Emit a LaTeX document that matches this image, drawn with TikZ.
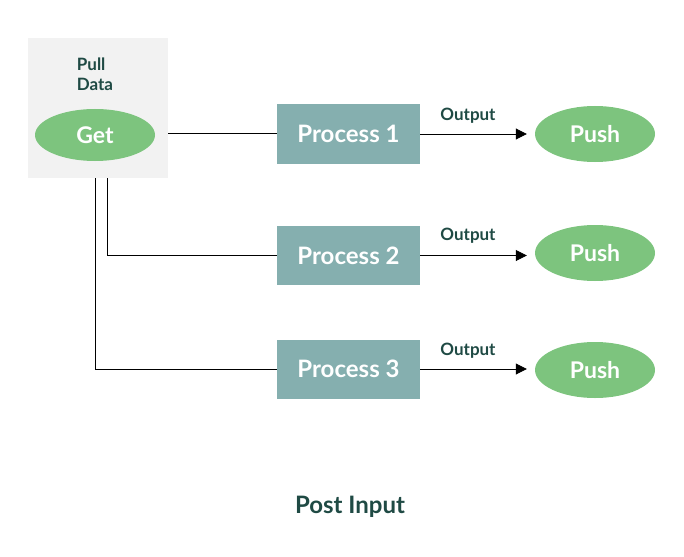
\documentclass[tikz,border=0pt]{standalone}
\usepackage{fontspec}
\setmainfont{Lato}
\usetikzlibrary{shapes.geometric,arrows.meta}
\definecolor{dg}{HTML}{1F4A44}
\definecolor{gr}{HTML}{7DC47E}
\definecolor{tl}{HTML}{85AFAF}
\definecolor{bx}{HTML}{F2F2F2}
\begin{document}
\begin{tikzpicture}[x=1pt,y=-1pt,
  proc/.style={rectangle,fill=tl,text=white,minimum width=143pt,minimum height=59pt,font=\fontsize{24}{28}\selectfont\bfseries},
  push/.style={ellipse,fill=gr,text=white,minimum width=120pt,minimum height=56pt,inner sep=0pt,font=\fontsize{23}{26}\selectfont\bfseries},
  lbl/.style={text=dg,font=\fontsize{17}{20}\selectfont\bfseries},
  conn/.style={draw=black,line width=0.8pt},
  arr/.style={conn,-{Triangle[length=11pt,width=11pt]}}]
\useasboundingbox (0,0) rectangle (684,556);
\node[rectangle,fill=bx,minimum width=140pt,minimum height=140pt,inner sep=0] (box) at (98,108) {};
\node[lbl,align=left] (pull) at (95,74) {Pull\\Data};
\node[push,minimum height=52pt] (get) at (95,135) {Get};
\node[proc] (p1) at (348.5,134) {Process 1};
\node[proc] (p2) at (348.5,255.5) {Process 2};
\node[proc] (p3) at (348.5,369) {Process 3};
\node[push] (s1) at (595,134) {Push};
\node[push] (s2) at (595,253) {Push};
\node[push] (s3) at (595,370) {Push};
\node[lbl] (o1) at (468,116) {Output};
\node[lbl] (o2) at (468,236) {Output};
\node[lbl] (o3) at (468,351) {Output};
\node[lbl,font=\fontsize{24}{28}\selectfont\bfseries] (post) at (350,507) {Post Input};
\coordinate (a1) at (168,133);
\coordinate (a2) at (107,178);
\coordinate (a3) at (95,178);
\draw[conn] (a1) -- (a1 -| p1.west);
\draw[conn] (a2) |- (p2.west);
\draw[conn] (a3) |- (p3.west);
\draw[arr] (p1.east) -- ([xshift=-8pt]p1.east -| s1.west);
\draw[arr] (p2.east) -- ([xshift=-8pt]p2.east -| s2.west);
\draw[arr] (p3.east) -- ([xshift=-8pt]p3.east -| s3.west);
\end{tikzpicture}
\end{document}
